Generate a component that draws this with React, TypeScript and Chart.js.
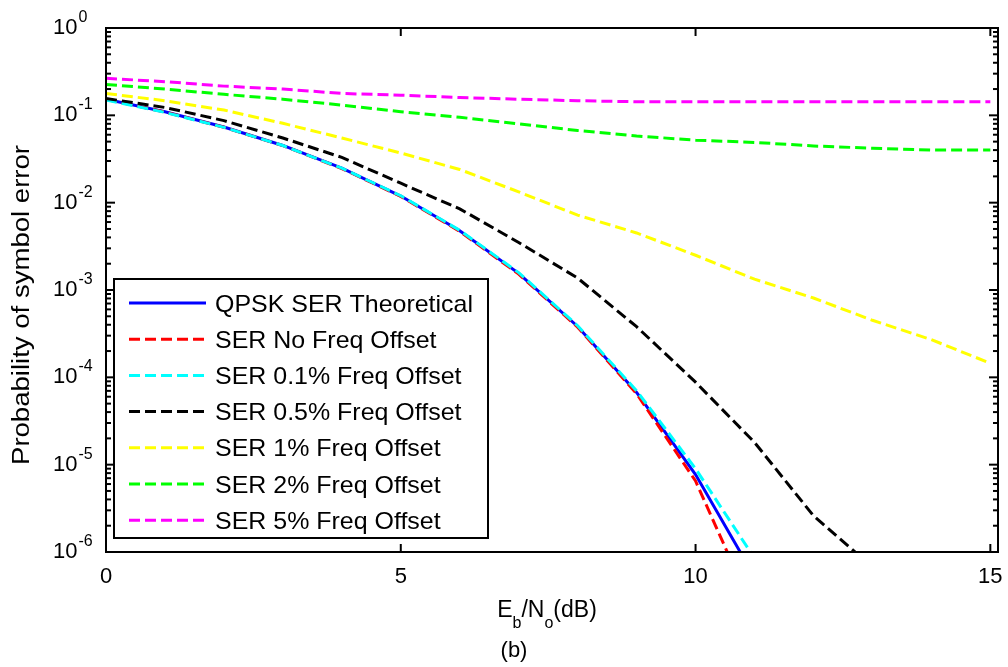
import React, { useEffect, useRef } from 'react';
import { Chart, registerables } from 'chart.js';

Chart.register(...registerables);

// ---- data ----
const ebnoDb = [0, 1, 2, 3, 4, 5, 6, 7, 8, 9, 10, 11, 12, 13, 14, 15];

const serTheoretical = [0.153, 0.11, 0.0735, 0.0452, 0.0248, 0.0119, 0.00478, 0.00155, 0.000382, 0.0000672, 0.0000077, 0.00000052];
const serNoOffset = [0.152, 0.109, 0.073, 0.045, 0.0246, 0.0118, 0.0047, 0.00152, 0.000375, 0.000065, 0.0000065, 0.0000002];
const ser01 = [0.15, 0.108, 0.0728, 0.0451, 0.0248, 0.012, 0.00482, 0.00158, 0.00039, 0.00007, 0.000009, 0.00000085];
const ser05 = [0.156, 0.123, 0.087, 0.055, 0.033, 0.0167, 0.0085, 0.0035, 0.00137, 0.00038, 0.000088, 0.000018, 0.0000026, 0.00000067];
const ser1 = [0.178, 0.147, 0.115, 0.081, 0.055, 0.037, 0.024, 0.0133, 0.0072, 0.0045, 0.0025, 0.00133, 0.00081, 0.00045, 0.00027, 0.000145];
const ser2 = [0.226, 0.2, 0.174, 0.153, 0.131, 0.11, 0.095, 0.08, 0.067, 0.058, 0.052, 0.049, 0.0446, 0.042, 0.04, 0.04];
const ser5 = [0.265, 0.243, 0.216, 0.2, 0.178, 0.17, 0.16, 0.153, 0.147, 0.143, 0.143, 0.143, 0.143, 0.143, 0.143, 0.143];

const seriesValues = [serTheoretical, serNoOffset, ser01, ser05, ser1, ser2, ser5];
const seriesLabels = [
  'QPSK SER Theoretical',
  'SER No Freq Offset',
  'SER 0.1% Freq Offset',
  'SER 0.5% Freq Offset',
  'SER 1% Freq Offset',
  'SER 2% Freq Offset',
  'SER 5% Freq Offset',
];
const seriesColors = ['#0000FF', '#FF0000', '#00FFFF', '#000000', '#FFFF00', '#00FF00', '#FF00FF'];
const seriesDashed = [false, true, true, true, true, true, true];

const xTickValues = [0, 5, 10, 15];
const xTickLabels = ['0', '5', '10', '15'];
const yTickExponents = [0, -1, -2, -3, -4, -5, -6];

const xTitleParts = [
  { t: 'E', sub: false },
  { t: 'b', sub: true },
  { t: '/N', sub: false },
  { t: 'o', sub: true },
  { t: '(dB)', sub: false },
];
const yTitle = 'Probability of symbol error';
const caption = '(b)';

const FONT = '"Liberation Sans", Arial, Helvetica, sans-serif';
const DASH = [11, 5];

export default function App() {
  const ref = useRef<HTMLCanvasElement>(null);

  useEffect(() => {
    if (!ref.current) return;

    const datasets = seriesValues.map((vals, i) => ({
      label: seriesLabels[i],
      data: vals.map((y, k) => ({ x: ebnoDb[k], y })),
      borderColor: seriesColors[i],
      backgroundColor: seriesColors[i],
      borderWidth: 3,
      borderDash: seriesDashed[i] ? DASH : [],
      pointRadius: 0,
      tension: 0,
      fill: false,
      order: 20 - i,
    }));

    const decor = {
      id: 'matlabDecor',
      afterDraw(chart: any) {
        const ctx = chart.ctx as CanvasRenderingContext2D;
        const { left, right, top, bottom } = chart.chartArea;
        const xs = chart.scales.x;
        const ys = chart.scales.y;
        const line = (x1: number, y1: number, x2: number, y2: number) => {
          ctx.beginPath();
          ctx.moveTo(x1, y1);
          ctx.lineTo(x2, y2);
          ctx.stroke();
        };
        ctx.save();
        ctx.strokeStyle = '#000';
        ctx.fillStyle = '#000';
        ctx.lineWidth = 2;
        ctx.setLineDash([]);

        // axes box
        ctx.strokeRect(left, top, right - left, bottom - top);

        // x ticks
        xTickValues.forEach((v) => {
          const px = xs.getPixelForValue(v);
          line(px, bottom, px, bottom - 8);
          line(px, top, px, top + 8);
        });

        // y ticks (major + minor)
        yTickExponents.forEach((e) => {
          const py = ys.getPixelForValue(Math.pow(10, e));
          line(left, py, left + 9, py);
          line(right, py, right - 9, py);
          if (e < 0) {
            for (let m = 2; m <= 9; m++) {
              const pm = ys.getPixelForValue(m * Math.pow(10, e));
              line(left, pm, left + 5, pm);
              line(right, pm, right - 5, pm);
            }
          }
        });

        // x tick labels
        ctx.font = `22px ${FONT}`;
        ctx.textAlign = 'center';
        ctx.textBaseline = 'alphabetic';
        xTickValues.forEach((v, i) => {
          ctx.fillText(xTickLabels[i], xs.getPixelForValue(v), bottom + 31);
        });

        // y tick labels 10^e
        yTickExponents.forEach((e) => {
          const py = ys.getPixelForValue(Math.pow(10, e));
          ctx.textAlign = 'left';
          ctx.font = `22px ${FONT}`;
          ctx.fillText('10', 53, py + 6);
          const w = ctx.measureText('10').width;
          ctx.font = `16px ${FONT}`;
          ctx.fillText(e === 0 ? '0' : '-' + Math.abs(e), 53 + w + 1, py - 6);
        });

        // x title with subscripts
        const mainF = `23px ${FONT}`;
        const subF = `16px ${FONT}`;
        let total = 0;
        xTitleParts.forEach((p) => {
          ctx.font = p.sub ? subF : mainF;
          total += ctx.measureText(p.t).width;
        });
        let cx = (left + right) / 2 - 5 - total / 2;
        const base = bottom + 65;
        ctx.textAlign = 'left';
        xTitleParts.forEach((p) => {
          ctx.font = p.sub ? subF : mainF;
          ctx.fillText(p.t, cx, p.sub ? base + 11 : base);
          cx += ctx.measureText(p.t).width;
        });

        // caption
        ctx.font = `22px ${FONT}`;
        ctx.textAlign = 'center';
        ctx.fillText(caption, 514, bottom + 105);

        // y title (rotated)
        ctx.save();
        ctx.translate(29, (top + bottom) / 2 + 15);
        ctx.rotate(-Math.PI / 2);
        ctx.font = `23px ${FONT}`;
        ctx.textAlign = 'center';
        const yw = ctx.measureText(yTitle).width;
        ctx.scale(320 / yw, 1);
        ctx.fillText(yTitle, 0, 0);
        ctx.restore();

        // legend
        const lx = 114, ly = 279, lw = 374, lh = 259;
        ctx.fillStyle = '#fff';
        ctx.fillRect(lx, ly, lw, lh);
        ctx.strokeStyle = '#000';
        ctx.lineWidth = 2;
        ctx.strokeRect(lx, ly, lw, lh);
        seriesLabels.forEach((lab, i) => {
          const ry = ly + 24 + i * 36.2;
          ctx.strokeStyle = seriesColors[i];
          ctx.lineWidth = 3;
          ctx.setLineDash(seriesDashed[i] ? DASH : []);
          line(129, ry, 206, ry);
          ctx.setLineDash([]);
          ctx.fillStyle = '#000';
          ctx.font = `24px ${FONT}`;
          ctx.textAlign = 'left';
          const tw = ctx.measureText(lab).width;
          ctx.save();
          ctx.translate(215, ry + 8.5);
          const target = lab === 'QPSK SER Theoretical' ? 258 : tw * 1.04;
          ctx.scale(target / tw, 1);
          ctx.fillText(lab, 0, 0);
          ctx.restore();
        });

        ctx.restore();
      },
    };

    const chart = new Chart(ref.current, {
      type: 'line',
      data: { datasets },
      options: {
        responsive: false,
        animation: false,
        layout: { padding: { left: 106, top: 28, right: 10, bottom: 115 } },
        plugins: {
          legend: { display: false },
          tooltip: { enabled: false },
        },
        scales: {
          x: { type: 'linear', min: 0, max: 15.13, display: false },
          y: { type: 'logarithmic', min: 1e-6, max: 1, display: false },
        },
      },
      plugins: [decor],
    } as any);

    return () => chart.destroy();
  }, []);

  return (
    <div style={{ position: 'fixed', left: 0, top: 0, width: 1008, height: 667, background: '#fff' }}>
      <canvas ref={ref} width={1008} height={667} style={{ display: 'block' }} />
    </div>
  );
}
